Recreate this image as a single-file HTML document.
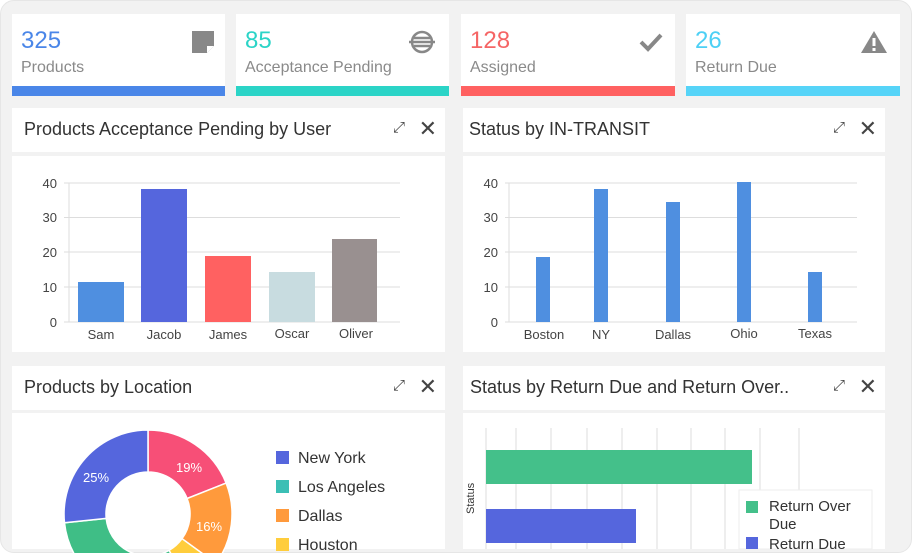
<!DOCTYPE html>
<html style="overflow:hidden"><head><meta charset="utf-8"><style>
*{margin:0;padding:0;box-sizing:border-box}
html,body{width:912px;height:553px;overflow:hidden}
body{background:#fff;font-family:"Liberation Sans",sans-serif;position:relative}
.bg{position:absolute;left:0;top:0;width:912px;height:553px;background:#f2f2f2;border-radius:14px;border:1px solid #e6e6e6}
.card{position:absolute;top:14px;height:82px;background:#fff}
.card .n{position:absolute;left:9px;top:13px;font-size:24px}
.card .l{position:absolute;left:9px;top:45px;font-size:16px;color:#8a8a8a}
.card .b{position:absolute;left:0;bottom:0;width:100%;height:10px}
.card .ic{position:absolute;right:12px;top:16px}
.ph{position:absolute;background:#fff;height:44px}
.ph .t{position:absolute;left:12px;top:11px;font-size:18px;color:#333}
.ph .x{position:absolute;right:8px;top:8px;font-size:22px;color:#444}
.ph .e{position:absolute;right:40px;top:11px;font-size:15px;color:#444}
.pb{position:absolute;background:#fff}
svg text{font-family:"Liberation Sans",sans-serif}
</style></head><body>
<div class="bg"></div>
<div class="card" style="left:12px;width:213px"><div class="n" style="color:#4a86e8">325</div><div class="l">Products</div><div class="b" style="background:#4a86e8"></div>
<svg class="ic" width="24" height="24" style="right:10px"><path d="M1 1h22v15l-7 7H1z" fill="#888"/><path d="M16 23v-7h7" fill="#fff"/></svg></div>
<div class="card" style="left:236px;width:213px"><div class="n" style="color:#2bd4c7">85</div><div class="l">Acceptance Pending</div><div class="b" style="background:#2bd4c7"></div>
<svg class="ic" width="30" height="26" style="right:12px;top:15px"><circle cx="15" cy="13" r="10" fill="none" stroke="#888" stroke-width="2.5"/><path d="M2 13h26M7 9h16M7 17h16" stroke="#888" stroke-width="2.5"/></svg></div>
<div class="card" style="left:461px;width:214px"><div class="n" style="color:#f56565">128</div><div class="l">Assigned</div><div class="b" style="background:#ff6161"></div>
<svg class="ic" width="24" height="20" style="right:12px;top:18px"><path d="M2 10l7 7L22 3" fill="none" stroke="#888" stroke-width="4"/></svg></div>
<div class="card" style="left:686px;width:214px"><div class="n" style="color:#4dd0f5">26</div><div class="l">Return Due</div><div class="b" style="background:#56d4f8"></div>
<svg class="ic" width="28" height="24" style="right:12px;top:16px"><path d="M14 1L27 23H1z" fill="#888"/><path d="M14 8v8M14 18v3" stroke="#fff" stroke-width="3"/></svg></div>

<div class="ph" style="left:12px;top:108px;width:433px"><div class="t">Products Acceptance Pending by User</div><div class="e">⤢</div><div class="x">✕</div></div>
<div class="pb" style="left:12px;top:156px;width:433px;height:196px"></div>
<div class="ph" style="left:463px;top:108px;width:422px"><div class="t" style="left:6px">Status by IN-TRANSIT</div><div class="e">⤢</div><div class="x">✕</div></div>
<div class="pb" style="left:463px;top:156px;width:422px;height:196px"></div>
<div class="ph" style="left:12px;top:366px;width:433px"><div class="t">Products by Location</div><div class="e">⤢</div><div class="x">✕</div></div>
<div class="pb" style="left:12px;top:413px;width:433px;height:136px"></div>
<div class="ph" style="left:463px;top:366px;width:422px"><div class="t" style="left:7px">Status by Return Due and Return Over..</div><div class="e">⤢</div><div class="x">✕</div></div>
<div class="pb" style="left:463px;top:413px;width:422px;height:136px"></div>

<svg width="912" height="553" style="position:absolute;left:0;top:0">
<g stroke="#ddd" stroke-width="1">
<line x1="64" y1="183" x2="400" y2="183"/><line x1="64" y1="217.5" x2="400" y2="217.5"/><line x1="64" y1="252" x2="400" y2="252"/><line x1="64" y1="287" x2="400" y2="287"/><line x1="64" y1="322" x2="400" y2="322"/><line x1="69" y1="183" x2="69" y2="322"/>
<line x1="505" y1="183" x2="857" y2="183"/><line x1="505" y1="217.5" x2="857" y2="217.5"/><line x1="505" y1="252" x2="857" y2="252"/><line x1="505" y1="287" x2="857" y2="287"/><line x1="505" y1="322" x2="857" y2="322"/><line x1="509" y1="183" x2="509" y2="322"/>
</g>
<g font-size="13" fill="#444" text-anchor="end"><text x="57" y="188">40</text><text x="57" y="222">30</text><text x="57" y="257">20</text><text x="57" y="292">10</text><text x="57" y="327">0</text>
<text x="498" y="188">40</text><text x="498" y="222">30</text><text x="498" y="257">20</text><text x="498" y="292">10</text><text x="498" y="327">0</text></g>
<rect x="78" y="282" width="46" height="40" fill="#4f8fe0"/><rect x="141" y="189" width="46" height="133" fill="#5566dd"/><rect x="205" y="256" width="46" height="66" fill="#ff6161"/><rect x="269" y="272" width="46" height="50" fill="#c8dce0"/><rect x="332" y="239" width="45" height="83" fill="#999090"/>
<g font-size="13" fill="#444" text-anchor="middle"><text x="101" y="339">Sam</text><text x="164" y="339">Jacob</text><text x="228" y="339">James</text><text x="292" y="338">Oscar</text><text x="356" y="338">Oliver</text>
<text x="544" y="339">Boston</text><text x="601" y="339">NY</text><text x="673" y="339">Dallas</text><text x="744" y="338">Ohio</text><text x="815" y="338">Texas</text></g>
<g fill="#4f8fe0"><rect x="536" y="257" width="14" height="65"/><rect x="594" y="189" width="14" height="133"/><rect x="666" y="202" width="14" height="120"/><rect x="737" y="182" width="14" height="140"/><rect x="808" y="272" width="14" height="50"/></g>

<g transform="translate(148,514)" stroke="#fff" stroke-width="1.5">
<path d="M0,-84A84,84 0 0 1 78.1,-30.9L39.1,-15.5A42,42 0 0 0 0,-42Z" fill="#f74f77"/>
<path d="M78.1,-30.9A84,84 0 0 1 68,49.4L34,24.7A42,42 0 0 0 39.1,-15.5Z" fill="#ff9a3c"/>
<path d="M68,49.4A84,84 0 0 1 42,72.7L21,36.4A42,42 0 0 0 34,24.7Z" fill="#ffcd3c"/>
<path d="M42,72.7A84,84 0 0 1 -83.5,8.8L-41.8,4.4A42,42 0 0 0 21,36.4Z" fill="#3fbe86"/>
<path d="M-83.5,8.8A84,84 0 0 1 0,-84L0,-42A42,42 0 0 0 -41.8,4.4Z" fill="#5566dd"/>
</g>
<g font-size="13" fill="#fff"><text x="83" y="482">25%</text><text x="176" y="472">19%</text><text x="196" y="531">16%</text></g>
<rect x="276" y="451" width="13" height="13" fill="#5566dd"/><rect x="276" y="480" width="13" height="13" fill="#3bbfb5"/><rect x="276" y="509" width="13" height="13" fill="#ff9a3c"/><rect x="276" y="538" width="13" height="13" fill="#ffcd3c"/>
<g font-size="16" fill="#333"><text x="298" y="463">New York</text><text x="298" y="492">Los Angeles</text><text x="298" y="521">Dallas</text><text x="298" y="550">Houston</text></g>

<g stroke="#ddd"><line x1="486" y1="428" x2="486" y2="549"/><line x1="516" y1="428" x2="516" y2="549"/><line x1="551" y1="428" x2="551" y2="549"/><line x1="587" y1="428" x2="587" y2="549"/><line x1="622" y1="428" x2="622" y2="549"/><line x1="657" y1="428" x2="657" y2="549"/><line x1="691" y1="428" x2="691" y2="549"/><line x1="725" y1="428" x2="725" y2="549"/><line x1="760" y1="428" x2="760" y2="549"/><line x1="799" y1="428" x2="799" y2="549"/></g>
<rect x="486" y="450" width="266" height="34" fill="#44c08a"/><rect x="486" y="509" width="150" height="34" fill="#5566dd"/>
<text x="0" y="0" font-size="11" fill="#333" transform="translate(474,514) rotate(-90)">Status</text>
<rect x="739" y="490" width="133" height="59" fill="#fff" stroke="#eee"/>
<rect x="746" y="501" width="12" height="12" fill="#44c08a"/><rect x="746" y="537" width="12" height="12" fill="#5566dd"/>
<g font-size="15" fill="#333"><text x="769" y="511">Return Over</text><text x="769" y="529">Due</text><text x="769" y="549">Return Due</text></g>
</svg>
</body></html>
